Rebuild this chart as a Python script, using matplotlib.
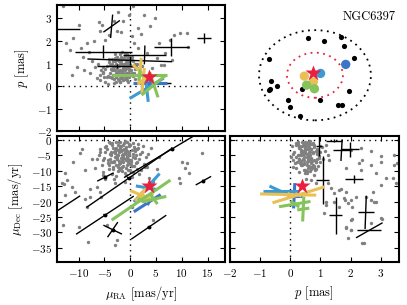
import numpy as np
import matplotlib.pyplot as plt
from matplotlib.patches import Ellipse

plt.rcParams['font.family'] = 'serif'
plt.rcParams['font.serif'] = ['cmr10']
plt.rcParams['mathtext.fontset'] = 'cm'
plt.rcParams['axes.formatter.use_mathtext'] = True
plt.rcParams['font.size'] = 8

# ---- field stars (grey), read per panel ----
# top left: mu_RA vs parallax
ra_tl = [-1.0, -0.5, -1.5, -2.0, -0.2, 0.3, -1.2, -2.5, -3.0, -0.8,
         -1.8, -0.3, 0.6, -2.2, -1.4, -0.6, -3.4, -4.0, -2.7, -1.9,
         -1.1, 0.1, 0.9, 1.4, -0.4, -2.4, -3.6, -4.5, -5.0, -1.6,
         -0.9, -2.9, -3.3, -1.3, 0.4, -0.1, -2.1, -1.7, -0.7, -2.6,
         -5.6, -4.8, -3.9, -3.1, -2.3, -1.5, -0.6, 0.2, 1.0, 1.8,
         -6.2, -4.2, -3.5, -2.8, -2.0, -1.2, -0.4, 0.5, -5.3, -4.4,
         -1.9, -1.0, -0.2, -3.0, -2.4, -0.8, -1.4, -2.9, 0.7, 2.2,
         -1.3, -0.7, -2.1, -1.6, -0.9, -2.6, -0.4, -1.9, -1.1, -3.1,
         -2.3, -0.2, -1.4, -2.8, -0.6, -1.7, -3.5, -0.1, -2.0, -1.2,
         0.2, -2.5, -3.8, -1.0, -0.5, -1.8, -4.2, -2.2, 0.6, -1.5,
         -3.0, -0.8, -2.7, -4.8, -1.3, 0.9, -2.0, -3.3, -0.3, -5.2,
         -1.6, -2.4, -0.9, -3.7, 1.3, -1.9, -4.4, -0.6, -2.9, -1.1,
         -3.6, -0.2, -2.6, -5.8, -1.4, 0.4, -2.1, -4.0, -0.7, -3.2,
         -13.1, -10.0, -6.0, -5.5, -0.3, 0.5, 2.6, 4.9, -2.6, -1.3,
         1.6, 3.9, 8.4, 9.7, 11.0, 7.8, 11.3, 5.5, 6.8, 8.1,
         -11.7, -11.0, -10.4, -11.3, -7.8, -9.1, -7.1, -4.2, 0.3, -3.2,
         -5.8, -8.4, -6.8, -5.8, -4.5, -5.2, -3.2, -2.0, -0.6, 6.5,
         4.2, 5.2, 3.2, -12.5, -9.5, -8.0, -7.5, -9.0, -6.5, 2.0,
         -1.8, -4.8, 0.8, 1.5, -2.3, 6.0]
p_tl = [0.8, 0.9, 1.0, 0.7, 1.1, 0.6, 1.2, 0.9, 0.5, 0.4,
        1.3, 0.7, 0.9, 1.1, 0.6, 1.4, 0.8, 0.6, 1.0, 0.5,
        0.3, 1.2, 1.0, 0.5, 0.2, 0.3, 1.2, 0.9, 0.4, 1.5,
        1.0, 0.7, 1.1, 0.8, 1.3, 0.5, 0.9, 0.6, 1.2, 1.3,
        0.7, 0.2, 0.4, 0.3, 0.6, 0.4, 0.6, 0.9, 0.3, 0.8,
        1.0, 1.2, 0.7, 0.2, 1.0, 1.0, 1.3, 1.1, 0.6, 0.1,
        0.2, 0.5, 0.9, 0.9, 0.5, 1.0, 0.8, 1.4, 0.6, 0.9,
        0.75, 0.85, 0.95, 0.65, 1.05, 0.8, 1.0, 0.55, 0.7, 0.9,
        1.15, 0.75, 1.25, 0.6, 0.5, 1.1, 1.0, 0.95, 0.45, 0.85,
        0.7, 1.2, 0.75, 1.35, 1.15, 0.35, 1.05, 0.55, 0.45, 0.65,
        1.25, 0.6, 0.4, 0.75, 0.25, 0.75, 1.4, 0.5, 0.4, 0.85,
        1.0, 0.65, 0.3, 0.95, 1.0, 1.2, 0.45, 0.8, 1.1, 1.45,
        0.35, 0.6, 0.9, 0.5, 0.45, 1.15, 0.25, 0.95, 1.05, 0.7,
        3.54, 2.72, 2.84, 2.72, 3.17, 3.54, 3.17, 3.02, 2.42, 2.87,
        2.58, 2.65, 2.28, 2.35, 2.35, 2.05, 1.75, 1.9, 1.46, 1.16,
        1.6, 2.13, 0.86, 0.49, 0.57, 1.31, 1.98, 2.28, 2.2, 2.87,
        2.42, 1.9, 0.86, 0.27, 0.42, 0.64, 0.12, 0.18, 0.27, 0.94,
        0.79, 1.24, 1.46, 1.9, 1.7, 1.5, 1.1, 0.7, 0.35, 2.3,
        2.4, 2.05, 1.9, 1.7, 3.3, 0.95]

# bottom left: mu_RA vs mu_Dec
ra_bl = [-3.0, -2.0, -1.0, 0.0, 1.0, -2.5, -1.5, -0.5, 0.5, 1.5,
         -4.0, -3.5, -2.8, -1.8, -0.8, 0.2, 1.2, 2.2, -3.2, -2.2,
         -1.2, -0.2, 0.8, 1.8, -4.5, -3.8, -2.6, -1.6, -0.6, 0.4,
         1.4, 2.4, 3.0, -5.0, -4.2, -3.3, -2.4, -1.4, -0.4, 0.6,
         1.6, 2.6, -5.5, -4.6, -3.6, -2.9, -1.9, -0.9, 0.1, 1.1,
         2.0, -6.0, -5.2, -4.4, -3.4, -2.3, -1.3, -0.3, 0.7, 1.7,
         -6.5, -5.8, -4.8, -3.9, -2.7, -1.7, -0.7, 0.3, 1.3, 2.8,
         -4.1, -3.1, -2.1, -1.1, -0.1, 0.9, 3.5, -5.3, -6.8, 4.0,
         -2.4, -1.6, -0.8, 0.6, -3.7, -4.9, 1.9, -1.0, -2.9, 0.0,
         -1.3, -0.7, -2.1, -1.6, -0.9, -2.6, -0.4, -1.9, -1.1, -3.1,
         -2.3, -0.2, -1.4, -2.8, -0.6, -1.7, -3.5, -0.1, -2.0, -1.2,
         0.2, -2.5, -3.8, -1.0, -0.5, -1.8, -4.2, -2.2, 0.6, -1.5,
         -3.0, -0.8, -2.7, -4.8, -1.3, 0.9, -2.0, -3.3, -0.3, -5.2,
         -1.6, -2.4, -0.9, -3.7, 1.3, -1.9, -4.4, -0.6, -2.9, -1.1,
         -3.6, -0.2, -2.6, -5.8, -1.4, 0.4, -2.1, -4.0, -0.7, -3.2,
         -9.7, -8.7, -12.3, -11.3, -13.3, -12.6, -10.7, -8.4, -7.8, -6.5,
         -5.8, -5.6, -13.0, -10.0, -8.1, -2.9, -2.6, -4.5, 4.5, 0.3,
         1.9, 3.2, 5.5, 10.0, 11.0, 13.9, 9.7, 4.5, -12.6, -11.0,
         -12.9, -9.3, -7.4, -7.7, -8.7, 10.7, 11.4, 9.5, 5.2, 3.6]
dec_bl = [-3.0, -2.0, -4.0, -1.5, -3.5, -6.0, -5.0, -7.0, -5.5, -2.5,
          -4.5, -1.0, -8.0, -3.5, -9.0, -6.5, -7.5, -4.0, -6.8, -0.5,
          -2.8, -4.8, -8.5, -6.0, -3.0, -7.2, -5.2, -8.8, -0.8, -3.2,
          -9.5, -2.0, -5.5, -5.8, -9.5, -2.5, -10.0, -7.0, -6.2, -10.5,
          -1.2, -7.8, -8.2, -1.8, -11.0, -4.2, -0.8, -11.5, -8.0, -5.0,
          -9.8, -4.8, -11.2, -6.5, -8.8, -3.2, -1.5, -3.8, -2.2, -11.0,
          -6.2, -2.8, -4.0, -6.2, -11.8, -9.2, -5.5, -12.0, -7.0, -8.6,
          -0.5, -12.5, -7.8, -0.3, -9.8, -3.0, -4.5, -10.5, -9.0, -2.5,
          -5.0, -6.3, -3.3, -1.0, -3.8, -12.8, -4.5, -13.5, -14.0, -7.5,
          -4.5, -5.5, -3.8, -6.8, -2.2, -5.2, -7.8, -3.0, -6.0, -4.0,
          -1.5, -4.2, -8.4, -2.6, -3.6, -5.8, -7.0, -6.4, -9.2, -0.9,
          -7.2, -4.8, -5.0, -2.8, -9.6, -1.8, -8.2, -6.8, -4.6, -10.2,
          -3.4, -6.6, -0.6, -2.2, -5.4, -5.8, -7.6, -9.4, -1.2, -6.4,
          -3.2, -8.8, -4.4, -4.2, -3.0, -2.4, -7.4, -8.0, -5.6, -10.8,
          -1.6, -2.0, -6.2, -3.8, -4.8, -8.4, -9.8, -0.9, -6.0, -7.0,
          -4.3, -9.7, -13.0, -15.2, -14.1, -17.9, -16.8, -21.7, -18.4, -15.2,
          -16.8, -18.4, -27.6, -28.1, -33.0, -34.1, -32.5, -27.6, -26.0, -21.7,
          -19.5, -8.7, -5.4, -7.0, -7.6, -4.3, -14.1, -13.5, -10.8, -7.0,
          -14.4, -3.0, -6.3, -16.0, -19.3, -9.0, -10.6, -12.2, -9.5, -12.2]

# bottom right: parallax vs mu_Dec
p_br = [0.2, 0.4, 0.6, 0.8, 1.0, 0.3, 0.5, 0.7, 0.9, 0.1,
        0.25, 0.45, 0.65, 0.85, 1.05, 0.35, 0.55, 0.75, 0.95, 0.15,
        0.2, 0.4, 0.6, 0.8, 1.1, 0.3, 0.5, 0.7, 0.9, 0.05,
        0.25, 0.45, 0.65, 0.85, 1.2, 0.35, 0.55, 0.75, 0.95, 0.1,
        0.2, 0.4, 0.6, 0.8, 1.0, 0.3, 0.5, 0.7, 0.9, 0.02,
        0.28, 0.48, 0.68, 0.88, 1.15, 0.38, 0.58, 0.78, 1.3, 0.12,
        0.22, 0.42, 0.62, 0.82, 1.25, 0.32, 0.52, 0.72, 0.92, 0.08,
        0.45, 0.55, 0.35, 0.65, 0.5, 0.6, 0.4, 0.7, 0.3, 0.75,
        0.52, 0.42, 0.62, 0.48, 0.38, 0.58, 0.68, 0.28, 0.78, 0.46,
        0.56, 0.36, 0.66, 0.5, 0.44, 0.6, 0.34, 0.72, 0.54, 0.64,
        0.4, 0.8, 0.5, 0.3, 0.6, 0.7, 0.44, 0.86, 0.24, 0.58,
        0.48, 0.68, 0.38, 0.9, 0.52, 0.62, 0.32, 0.74, 0.46, 0.56,
        0.18, 0.98, 0.42, 0.66, 0.36, 0.76, 0.5, 0.6, 0.28, 0.84,
        2.01, 2.34, 2.39, 2.67, 3.0, 3.44, 3.39, 3.0, 2.73, 2.78,
        3.0, 2.51, 2.18, 2.01, 1.84, 1.62, 1.46, 1.18, 2.01, 1.84,
        2.39, 2.01, 1.24, 1.35, 0.85, 0.69, 2.34, 2.84, 3.44, 1.18,
        1.62, 1.82, 1.93, 2.04, 2.04, 1.84, 2.01, 1.9, 2.67, 2.84,
        2.67, 3.04, 2.45, 1.13, 1.84, 2.28, 2.67, 3.0, 3.55, 3.5,
        3.17, 1.68, 1.46, 1.79]
dec_br = [-1.0, -2.0, -3.0, -1.5, -4.0, -5.0, -2.5, -6.0, -3.5, -4.5,
          -0.5, -6.5, -1.2, -7.0, -2.2, -3.2, -8.0, -4.2, -5.2, -7.5,
          -9.0, -0.8, -5.5, -8.5, -6.2, -1.8, -3.8, -9.5, -2.8, -2.0,
          -4.8, -7.8, -0.2, -3.4, -1.5, -6.8, -10.0, -1.0, -5.8, -8.8,
          -5.6, -4.4, -9.2, -2.4, -7.2, -10.5, -1.2, -3.0, -6.0, -5.5,
          -2.6, -10.8, -7.6, -4.6, -3.6, -8.2, -0.6, -11.5, -6.6, -3.8,
          -7.0, -1.6, -4.0, -9.8, -5.0, -2.2, -12.5, -1.4, -8.4, -6.4,
          -4.5, -5.5, -3.8, -6.8, -2.2, -5.2, -7.8, -3.0, -6.0, -4.0,
          -1.5, -4.2, -8.4, -2.6, -3.6, -5.8, -7.0, -6.4, -9.2, -0.9,
          -7.2, -4.8, -5.0, -2.8, -9.6, -1.8, -8.2, -6.8, -4.6, -10.2,
          -3.4, -6.6, -0.6, -2.2, -5.4, -5.8, -7.6, -9.4, -1.2, -6.4,
          -3.2, -8.8, -4.4, -4.2, -3.0, -2.4, -7.4, -8.0, -5.6, -10.8,
          -1.6, -2.0, -6.2, -3.8, -4.8, -8.4, -9.8, -0.9, -6.0, -7.0,
          -3.2, -2.7, -6.5, -8.1, -7.0, -4.9, -12.4, -14.6, -16.8, -20.0,
          -25.4, -18.4, -18.4, -19.5, -16.8, -16.2, -20.0, -20.0, -26.0, -28.7,
          -33.5, -29.2, -14.1, -15.7, -14.1, -13.0, -9.7, -10.8, -8.1, -21.1,
          -21.6, -19.5, -20.5, -21.6, -25.6, -28.1, -29.2, -31.9, -19.5, -20.0,
          -27.0, -25.6, -33.3, -23.8, -9.0, -7.4, -3.6, -5.2, -7.4, -14.1,
          -12.2, -16.0, -17.1, -18.7]

# ---- stars with error crosses: centre (x, y), half axis a (dx, dy), half axis b (dx, dy)
black_tl = [(-16.0, 2.53, 6.3, 0.0, 0.1, 0.15),
            (-3.6, 2.65, 0.2, 0.52, 1.6, 0.26),
            (2.8, 1.38, 4.2, 0.0, 0.05, 0.42),
            (8.0, 1.72, 3.4, 0.0, 0.0, 0.4),
            (14.3, 2.13, 1.4, 0.0, 0.0, 0.22),
            (-5.2, 1.53, 5.6, 0.0, 0.0, 0.3),
            (-0.1, 1.14, 8.2, -0.06, 0.0, 0.2),
            (-2.5, 0.89, 3.9, 0.0, 0.0, 0.1),
            (5.0, 0.12, 3.0, 0.0, 0.0, 0.05)]
black_bl = [(-16.0, -25.0, 6.3, 6.9, 0.3, -0.3),
            (-4.9, -24.4, 5.6, 6.2, 0.3, -0.3),
            (-0.3, -12.4, 8.2, 9.5, 0.3, -0.3),
            (8.2, -2.8, 9.4, 9.4, 0.3, -0.3),
            (-4.8, -12.0, 1.6, 1.35, 0.2, -0.2),
            (3.6, -28.3, 3.4, 3.9, 0.2, -0.2),
            (14.2, -13.2, 1.5, 1.4, 0.2, -0.2),
            (-3.4, -29.1, 1.8, -1.45, 1.0, 2.45)]
black_br = [(1.08, -13.0, 0.0, 7.8, 0.22, 0.0),
            (2.12, -12.6, 0.29, 0.0, 0.0, 1.4),
            (1.5, -24.4, 0.0, 6.0, 0.22, 0.0),
            (2.5, -23.5, 0.02, 5.4, 0.27, 0.0),
            (2.62, -29.3, 0.44, 2.45, 0.4, 0.0),
            (0.96, -2.0, 0.0, 3.3, 0.1, 0.0),
            (1.45, -0.3, 0.28, 0.0, 0.0, 0.5),
            (1.7, -3.3, 0.02, 3.5, 0.3, 0.0),
            (1.98, -3.0, 0.3, 0.0, 0.0, 2.5)]

# member candidates: dark blue, light blue, yellow, yellow, green, green
member_tl = [(3.8, 0.12, 3.3, 0.0, 0.15, 0.25),
             (3.2, -0.1, 3.3, 0.45, 0.3, -0.6),
             (1.9, 0.65, 0.25, 0.6, 1.4, -0.3),
             (2.5, 0.25, 0.25, 0.55, 0.9, 0.15),
             (1.8, 0.49, 5.3, 0.0, 0.15, 0.25),
             (4.6, 0.05, 2.4, 0.45, 0.8, -0.55)]
member_bl = [(3.3, -20.5, 2.6, 2.8, 0.4, -0.5),
             (3.2, -15.5, 2.5, 4.6, 2.1, -0.6),
             (2.0, -17.8, 2.0, -1.4, 1.0, 2.0),
             (2.7, -18.5, 1.8, 1.0, -0.6, 1.8),
             (2.1, -19.5, 5.7, 6.5, 0.6, -0.5),
             (4.6, -19.2, 2.4, 0.9, 0.7, -1.6)]
member_br = [(0.13, -18.1, 0.02, 4.1, 0.25, 0.0),
             (-0.3, -16.7, 0.39, -1.75, 0.6, 0.0),
             (0.27, -17.8, 0.86, 2.6, 0.1, -0.4),
             (-0.07, -17.7, 0.93, -0.2, 0.05, 0.6),
             (0.43, -22.4, 0.02, 4.05, 0.2, 0.3),
             (0.15, -20.8, 0.52, 0.85, 0.15, -1.0)]
member_colors = ['#3b74c9', '#3d9ad2', '#e8c055', '#e8c055', '#86c35c', '#86c35c']

# cluster centre (red star)
cl_ra, cl_dec, cl_p = 3.7, -15.0, 0.4

# ---- sky map (top right), offsets in units of the outer radius
sky_x = [-0.12, 0.17, 0.46, 0.52, 0.70, -0.82, -0.79, -0.68, -0.80, -0.83,
         -0.23, 0.61, -0.49, 0.09, -0.45, 0.42, 0.49, -0.27]
sky_y = [0.82, 0.77, 0.85, 0.64, 0.39, 0.35, -0.13, -0.24, -0.30, -0.33,
         -0.30, -0.36, -0.56, -0.55, -0.70, -0.67, -0.67, -0.90]
mem_sky_x = [0.55, 0.10, -0.19, -0.03, -0.15, -0.01]
mem_sky_y = [0.24, 0.04, -0.02, -0.15, -0.22, -0.30]
r_outer, r_inner = 1.0, 0.5

fig = plt.figure(figsize=(4.07, 3.05), dpi=100)
ax_tl = fig.add_axes([0.140, 0.570, 0.413, 0.414])
ax_tr = fig.add_axes([0.565, 0.570, 0.415, 0.414])
ax_bl = fig.add_axes([0.140, 0.141, 0.413, 0.413])
ax_br = fig.add_axes([0.565, 0.141, 0.415, 0.413])

dot = (0, (1, 3))
grey_size = 6


def crosses(ax, items, color, lw, z, dots=False):
    for cx, cy, axx, ayy, bx, by in items:
        ax.plot([cx - axx, cx + axx], [cy - ayy, cy + ayy], color=color, lw=lw,
                zorder=z, solid_capstyle='butt')
        ax.plot([cx - bx, cx + bx], [cy - by, cy + by], color=color, lw=lw,
                zorder=z, solid_capstyle='butt')
        if dots:
            ax.plot(cx, cy, 'o', color=color, ms=1.8, zorder=z)


def members(ax, items):
    for (cx, cy, axx, ayy, bx, by), c in zip(items, member_colors):
        crosses(ax, [(cx, cy, axx, ayy, bx, by)], c, 2.2, 4)


for ax in [ax_tl, ax_bl, ax_br]:
    ax.axvline(0, color='k', lw=1, ls=dot, zorder=1)
    ax.axhline(0, color='k', lw=1, ls=dot, zorder=1)
    ax.tick_params(direction='in', top=True, right=True, length=3.5, width=0.8,
                   labelsize=8)
    for s in ax.spines.values():
        s.set_linewidth(1.5)

# top left
ax_tl.scatter(ra_tl, p_tl, s=grey_size, color='gray', lw=0, zorder=2)
crosses(ax_tl, black_tl, 'k', 1.0, 3)
members(ax_tl, member_tl)
ax_tl.plot(cl_ra, cl_p, '*', color='#e8203e', ms=12, mec='none', zorder=6)
ax_tl.set_xlim(-14.2, 18.4)
ax_tl.set_ylim(-2, 3.6)
ax_tl.set_xticks([-10, -5, 0, 5, 10, 15])
ax_tl.set_xticklabels([])
ax_tl.set_yticks([-2, -1, 0, 1, 2, 3])
ax_tl.set_ylabel(r'$p$ [mas]', fontsize=9)

# bottom left
ax_bl.scatter(ra_bl, dec_bl, s=grey_size, color='gray', lw=0, zorder=2)
crosses(ax_bl, black_bl, 'k', 1.0, 3, dots=True)
members(ax_bl, member_bl)
ax_bl.plot(cl_ra, cl_dec, '*', color='#e8203e', ms=12, mec='none', zorder=6)
ax_bl.set_xlim(-14.2, 18.4)
ax_bl.set_ylim(-39.6, 1.3)
ax_bl.set_xticks([-10, -5, 0, 5, 10, 15])
ax_bl.set_yticks([0, -5, -10, -15, -20, -25, -30, -35])
ax_bl.set_xlabel(r'$\mu_{\rm RA}$ [mas/yr]', fontsize=9)
ax_bl.set_ylabel(r'$\mu_{\rm Dec}$ [mas/yr]', fontsize=9)

# bottom right
ax_br.scatter(p_br, dec_br, s=grey_size, color='gray', lw=0, zorder=2)
crosses(ax_br, black_br, 'k', 1.0, 3)
members(ax_br, member_br)
ax_br.plot(cl_p, cl_dec, '*', color='#e8203e', ms=12, mec='none', zorder=6)
ax_br.set_xlim(-2, 3.6)
ax_br.set_ylim(-39.6, 1.3)
ax_br.set_xticks([-2, -1, 0, 1, 2, 3])
ax_br.set_yticks([0, -5, -10, -15, -20, -25, -30, -35])
ax_br.set_yticklabels([])
ax_br.set_xlabel(r'$p$ [mas]', fontsize=9)

# top right: sky map
ax_tr.set_xlim(-1.52, 1.5)
ax_tr.set_ylim(-1.24, 1.56)
ax_tr.axis('off')
ax_tr.add_patch(Ellipse((0, 0), 2 * r_outer, 2 * r_outer, fill=False, ec='k',
                        lw=1.3, ls=(0, (1, 2.5))))
ax_tr.add_patch(Ellipse((0, 0), 2 * r_inner, 2 * r_inner, fill=False, ec='#e8203e',
                        lw=1.3, ls=(0, (1, 2.5))))
ax_tr.scatter(sky_x, sky_y, s=14, color='k', lw=0, zorder=3)
ax_tr.scatter(mem_sky_x, mem_sky_y, s=45, c=member_colors, lw=0, zorder=4)
ax_tr.plot(-0.03, 0.04, '*', color='#e8203e', ms=12, mec='none', zorder=5)
ax_tr.text(0.98, 0.95, 'NGC6397', transform=ax_tr.transAxes, ha='right', va='top',
           fontsize=9)

fig.savefig('out.png', dpi=100)
